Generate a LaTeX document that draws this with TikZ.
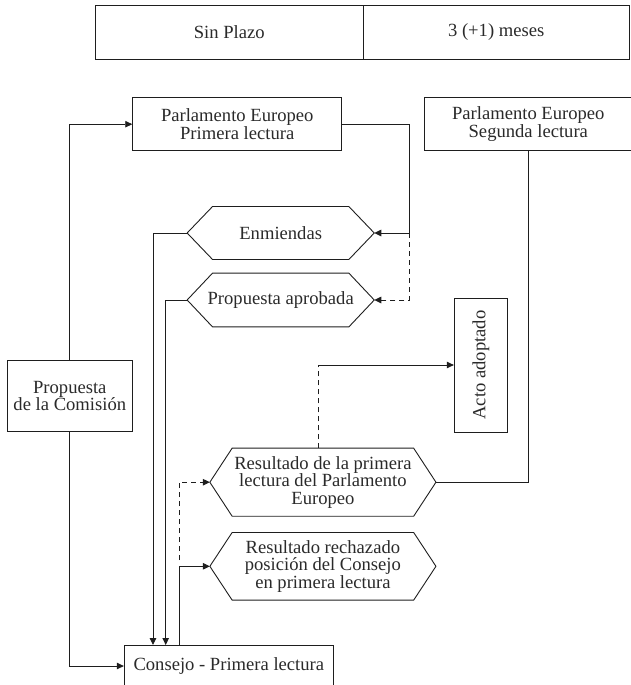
\documentclass[tikz,border=0pt]{standalone}
\usepackage{fontspec}
\setmainfont{Liberation Serif}
\usetikzlibrary{arrows.meta}
\definecolor{txt}{HTML}{2A2A2A}
\definecolor{ln}{HTML}{1E1E1E}
\newcommand{\drawhex}[2]{\draw[lnst] (#1.west) -- ([xshift=#2]#1.north west) -- ([xshift=-#2]#1.north east) -- (#1.east) -- ([xshift=-#2]#1.south east) -- ([xshift=#2]#1.south west) -- cycle;}
\tikzset{
  lnst/.style={draw=ln, line width=0.9bp},
  txtst/.style={text=txt, font=\fontsize{18.6bp}{17.5bp}\selectfont, align=center, inner sep=0pt},
  boxst/.style={txtst, lnst, rectangle},
  hexst/.style={txtst, draw=none, rectangle},
  arr/.style={lnst, -{Triangle[length=7bp,width=6.5bp]}},
  dsh/.style={dash pattern=on 5bp off 4bp}
}
\begin{document}
\begin{tikzpicture}[x=1bp,y=-1bp]
\useasboundingbox (0,0) rectangle (631,685);
% table
\node[boxst, minimum width=267.7bp, minimum height=53.3bp] (t1) at (229.2,32.4) {Sin Plazo};
\node[boxst, minimum width=266.3bp, minimum height=53.3bp] (t2) at (496.2,32.4) {3 (+1) meses};
% boxes
\node[boxst, minimum width=209bp, minimum height=53bp] (pe1) at (237.2,124.2) {Parlamento Europeo\\Primera lectura};
\node[boxst, minimum width=207bp, minimum height=53bp] (pe2) at (528.3,124.2) {Parlamento Europeo\\Segunda lectura};
\node[boxst, minimum width=125bp, minimum height=71.4bp] (com) at (69.8,396) {Propuesta\\de la Comisión};
\node[boxst, minimum width=53.4bp, minimum height=134bp] (acto) at (481,365) {\rotatebox{90}{Acto adoptado}};
\node[boxst, minimum width=209bp, minimum height=42bp] (con) at (228.8,666) {Consejo - Primera lectura};
% hexagons
\node[hexst, minimum width=186.7bp, minimum height=52.6bp] (enm) at (280.7,233) {Enmiendas};
\node[hexst, minimum width=186.7bp, minimum height=53.4bp] (pap) at (280.7,300) {Propuesta aprobada};
\node[hexst, minimum width=225.7bp, minimum height=67.7bp] (res) at (322.9,482.2) {Resultado de la primera\\lectura del Parlamento\\Europeo};
\node[hexst, minimum width=225.7bp, minimum height=67.3bp] (rech) at (322.9,566.3) {Resultado rechazado\\posición del Consejo\\en primera lectura};
\drawhex{enm}{25.4bp}
\drawhex{pap}{25.4bp}
\drawhex{res}{22.3bp}
\drawhex{rech}{22.3bp}
% junction coordinates
\coordinate (j1) at (409.3,233);
\coordinate (j2) at (409.3,300);
\coordinate (cin1) at (153,645);
\coordinate (cin2) at (165.7,645);
\coordinate (cout) at (179,645);
\coordinate (j3) at (179,560);
\coordinate (j4) at (318.7,448.3);
\coordinate (j5) at (318.7,365);
% connectors
\draw[arr] (com.north) |- (pe1.west);
\draw[arr] (com.south) |- (con.west);
\draw[arr] (pe1.east) -| (j1) -- (enm.east);
\draw[arr, dsh] (j1) -- (j2) -- (pap.east);
\draw[arr] (enm.west) -| (cin1);
\draw[arr] (pap.west) -| (cin2);
\draw[arr] (cout) |- (rech.west);
\draw[arr, dsh] (j3) |- (res.west);
\draw[lnst] (res.east) -| (pe2.south);
\draw[lnst, dsh] (j4) -- (j5);
\draw[arr] (j5) -- (acto.west);
\end{tikzpicture}
\end{document}
